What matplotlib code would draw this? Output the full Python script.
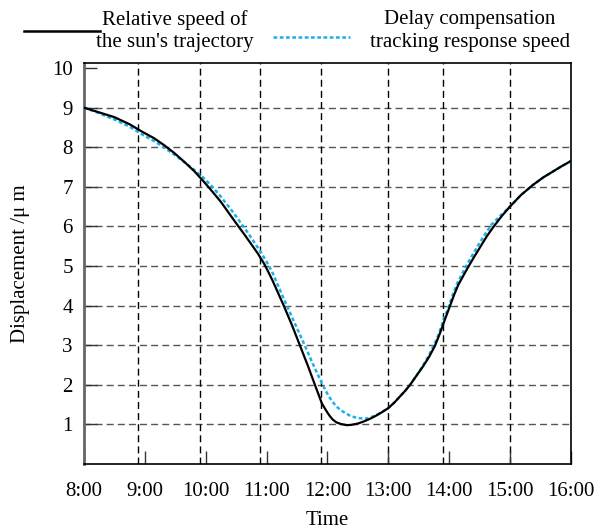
import matplotlib
matplotlib.use("Agg")
import matplotlib.pyplot as plt
from matplotlib.lines import Line2D

plt.rcParams['font.family'] = ['Liberation Serif', 'DejaVu Serif']

# Relative speed of the sun's trajectory (time in hours, displacement)
sun_t = [8.00, 8.25, 8.50, 8.75, 8.97, 9.15, 9.31, 9.48, 9.65, 9.81, 9.97,
         10.11, 10.25, 10.38, 10.52, 10.64, 10.75, 10.86, 10.96, 11.03, 11.10, 11.28,
         11.42, 11.55, 11.68, 11.80, 11.91, 11.96, 12.00, 12.04, 12.09, 12.15,
         12.22, 12.32, 12.40, 12.50, 12.59, 12.70, 12.80, 12.90, 13.00, 13.10,
         13.19, 13.28, 13.36, 13.46, 13.57, 13.67, 13.77, 13.85, 13.93, 14.01,
         14.08, 14.15, 14.24, 14.32, 14.42, 14.52, 14.62, 14.73, 14.86, 15.00,
         15.18, 15.38, 15.55, 15.70, 15.85, 16.00]
sun_v = [9.00, 8.88, 8.76, 8.58, 8.38, 8.23, 8.06, 7.86, 7.63, 7.40, 7.13,
         6.88, 6.62, 6.34, 6.04, 5.79, 5.55, 5.31, 5.06, 4.85, 4.63, 4.01,
         3.50, 2.99, 2.48, 1.98, 1.53, 1.40, 1.30, 1.21, 1.12, 1.05,
         1.01, 0.98, 0.99, 1.02, 1.07, 1.14, 1.22, 1.31, 1.41, 1.55,
         1.70, 1.85, 2.00, 2.22, 2.46, 2.70, 2.99, 3.30, 3.64, 3.97,
         4.26, 4.52, 4.77, 4.99, 5.25, 5.50, 5.75, 5.99, 6.25, 6.50,
         6.79, 7.05, 7.24, 7.38, 7.52, 7.65]

# Delay compensation tracking response speed
trk_t = [8.00, 8.25, 8.50, 8.75, 8.97, 9.15, 9.31, 9.48, 9.65, 9.81, 9.97,
         10.11, 10.25, 10.42, 10.60, 10.72, 10.85, 10.93, 11.00, 11.09, 11.20,
         11.33, 11.48, 11.63, 11.77, 11.91, 11.97, 12.02, 12.08, 12.15, 12.22,
         12.29, 12.36, 12.43, 12.50, 12.57, 12.65, 12.75, 12.86, 13.00, 13.10,
         13.19, 13.28, 13.36, 13.46, 13.57, 13.66, 13.75, 13.83, 13.90, 14.00,
         14.06, 14.13, 14.22, 14.30, 14.40, 14.50, 14.60, 14.70, 14.85, 15.00,
         15.18, 15.38, 15.55, 15.70, 15.85, 16.00]
trk_v = [9.00, 8.86, 8.70, 8.52, 8.31, 8.16, 8.00, 7.82, 7.62, 7.43, 7.22,
         7.00, 6.75, 6.42, 6.04, 5.78, 5.48, 5.29, 5.11, 4.86, 4.47,
         4.01, 3.50, 2.99, 2.50, 2.04, 1.86, 1.72, 1.58, 1.45, 1.36,
         1.29, 1.23, 1.19, 1.16, 1.15, 1.15, 1.20, 1.28, 1.41, 1.55,
         1.70, 1.85, 2.00, 2.22, 2.48, 2.72, 2.99, 3.28, 3.60, 4.00,
         4.27, 4.55, 4.82, 5.05, 5.32, 5.58, 5.82, 6.05, 6.28, 6.50,
         6.79, 7.05, 7.24, 7.38, 7.52, 7.65]

hours = [8, 9, 10, 11, 12, 13, 14, 15, 16]
hour_labels = ['8:00', '9:00', '10:00', '11:00', '12:00', '13:00', '14:00', '15:00', '16:00']
y_ticks = [1, 2, 3, 4, 5, 6, 7, 8, 9, 10]
# vertical grid lines in the scan sit a little left of the ticks
vgrid = [8.89, 9.90, 10.90, 11.90, 13.00, 13.90, 15.00]
hgrid = [1, 2, 3, 4, 5, 6, 7, 8, 9]

fig = plt.figure(figsize=(5.97, 5.29), dpi=100)
ax = fig.add_axes([0.1407, 0.1229, 0.956 - 0.1407, 0.8803 - 0.1229])

for g in hgrid:
  ax.axhline(g, color='#555555', lw=1.0, ls=(0, (5, 3)), zorder=1)
for g in vgrid:
  ax.axvline(g, color='black', lw=1.0, ls=(0, (5, 3)), zorder=1)

ax.plot(trk_t, trk_v, color='#1cb0ea', lw=1.8, ls=(0, (1.5, 1.0)), zorder=3)
ax.plot(sun_t, sun_v, color='black', lw=1.6, zorder=4)

ax.set_xlim(8, 16)
ax.set_ylim(0, 10.12)
ax.set_xticks(hours)
ax.set_xticklabels(hour_labels)
ax.set_yticks(y_ticks)
ax.tick_params(axis='both', direction='in', length=9.5, width=1.0, labelsize=15)
ax.tick_params(axis='x', pad=13, colors='#333333', labelcolor='black')
ax.tick_params(axis='y', pad=8, colors='#333333', labelcolor='black')
for s in ax.spines.values():
  s.set_linewidth(1.2)
ax.spines['left'].set_color('#666666')
ax.spines['left'].set_linewidth(2.0)

ax.set_xlabel('Time', fontsize=15, labelpad=7)
ax.set_ylabel('Displacement /μ m', fontsize=15, labelpad=16)

# legend drawn above the axes
fig.add_artist(Line2D([24 / 597, 100 / 597], [1 - 30.5 / 529, 1 - 30.5 / 529],
                      color='black', lw=1.8))
fig.add_artist(Line2D([273 / 597, 350 / 597], [1 - 37 / 529, 1 - 37 / 529],
                      color='#1cb0ea', lw=1.8, ls=(0, (1.5, 1.0))))
fig.text(175 / 597, 1 - 31 / 529, "Relative speed of\nthe sun's trajectory",
         ha='center', va='center', fontsize=15, linespacing=1.25)
fig.text(470 / 597, 1 - 31 / 529, "Delay compensation\ntracking response speed",
         ha='center', va='center', fontsize=15, linespacing=1.25)

fig.savefig('out.png', dpi=100)
